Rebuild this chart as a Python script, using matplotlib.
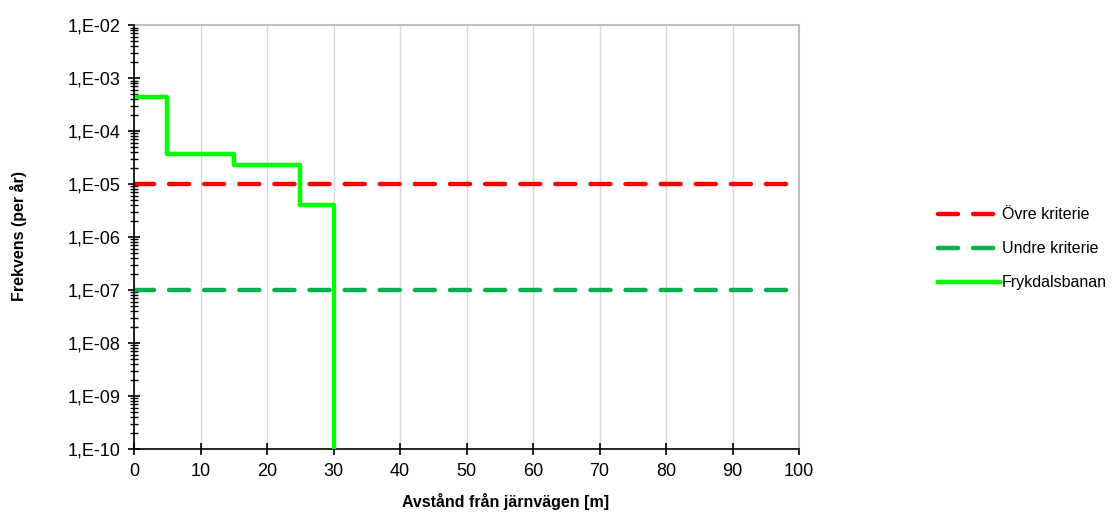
import math
import matplotlib.pyplot as plt
from matplotlib.ticker import FixedLocator, LogLocator, FuncFormatter, NullFormatter

plt.rcParams['font.family'] = ['Liberation Sans', 'DejaVu Sans']

# Data
distance = [0, 5, 15, 25, 30, 30]
frequency = [4.4e-4, 3.7e-5, 2.3e-5, 4.0e-6, 4.0e-6, 1e-11]
criteria_x = [0, 100]
upper_criterion = [1e-5, 1e-5]
lower_criterion = [1e-7, 1e-7]
labels = ["Övre kriterie", "Undre kriterie", "Frykdalsbanan"]

fig = plt.figure(figsize=(11.19, 5.12), dpi=100)
ax = fig.add_axes([0.1198, 0.123, 0.5943, 0.828])

ax.plot(criteria_x, upper_criterion, color='#FF0000', lw=3.2, ls=(0, (4.5, 3.4)),
        dash_capstyle='round', label=labels[0], zorder=3)
ax.plot(criteria_x, lower_criterion, color='#00B050', lw=3.2, ls=(0, (4.5, 3.4)),
        dash_capstyle='round', label=labels[1], zorder=3)
ax.step(distance, frequency, where='post', color='#00FF00', lw=3.2, label=labels[2], zorder=4)

ax.set_yscale('log')
ax.set_xlim(0, 100)
ax.set_ylim(1e-10, 1e-2)
ax.set_xticks(range(0, 101, 10))
ax.yaxis.set_major_locator(FixedLocator([10.0 ** e for e in range(-10, -1)]))
ax.yaxis.set_minor_locator(LogLocator(base=10, subs=range(2, 10), numticks=20))
ax.yaxis.set_minor_formatter(NullFormatter())
ax.yaxis.set_major_formatter(FuncFormatter(lambda v, p: "1,E-%02d" % round(-math.log10(v))))

ax.grid(axis='x', color='#D9D9D9', lw=1)
ax.set_axisbelow(True)
ax.tick_params(axis='both', which='major', direction='inout', length=8, width=1.2,
               labelsize=13, colors='black')
ax.tick_params(axis='y', which='major', pad=6)
ax.tick_params(axis='y', which='minor', direction='inout', length=6, width=1)
ax.tick_params(axis='x', which='major', pad=6)

for side in ['top', 'right']:
    ax.spines[side].set_color('#BFBFBF')
    ax.spines[side].set_linewidth(1.5)
for side in ['left', 'bottom']:
    ax.spines[side].set_color('black')
    ax.spines[side].set_linewidth(1.2)
ax.spines['left'].set_zorder(5)

fig.text(506 / 1119, 1 - 502 / 512, "Avstånd från järnvägen [m]", fontsize=11.5,
         fontweight='bold', ha='center', va='center')
fig.text(19 / 1119, 1 - 236 / 512, "Frekvens (per år)", fontsize=11.5,
         fontweight='bold', ha='center', va='center', rotation=90)

fig.legend(loc='center left', bbox_to_anchor=(0.825, 0.514), frameon=False, fontsize=11.5,
           handlelength=3.9, handletextpad=0.15, labelspacing=1.18)

fig.savefig('out.png', dpi=100)
